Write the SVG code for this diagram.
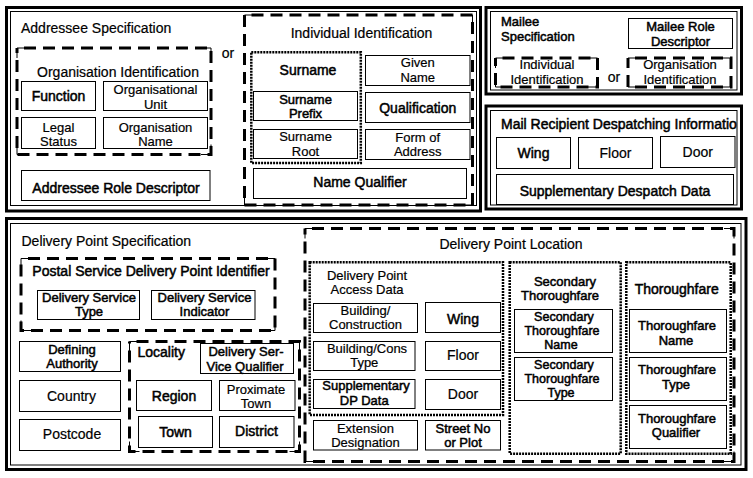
<svg xmlns="http://www.w3.org/2000/svg" width="753" height="478" viewBox="0 0 753 478">
<defs>
<style>
text{font-family:"Liberation Sans",Arial,Helvetica,sans-serif;font-size:14px;fill:#000;stroke:#000;stroke-width:.2px}
.t2{font-size:13px}
.t3{font-size:12.5px}
.m{text-anchor:middle}
.h{stroke-width:.5px}
.thick{fill:none;stroke:#000;stroke-width:3}
.thin{fill:none;stroke:#000;stroke-width:1}
.box{fill:none;stroke:#000;stroke-width:1}
.dash{fill:none;stroke:#000;stroke-width:3;stroke-dasharray:12 7;stroke-dashoffset:12}
.corner{fill:none;stroke:#000;stroke-width:1}
.dot{fill:none;stroke:#000;stroke-width:2.5;stroke-dasharray:2 1}
</style>
<clipPath id="recipClip"><rect x="491" y="110" width="246" height="95"/></clipPath>
</defs>
<rect width="753" height="478" fill="#fff"/>

<!-- ===== Addressee Specification ===== -->
<g id="addressee-specification">
  <rect class="thick" x="6.5" y="7.5" width="474" height="203.5"/>
  <rect class="thin" x="10.5" y="11.5" width="466" height="194"/>
  <text x="21" y="33">Addressee Specification</text>
  <text class="m" x="228" y="58">or</text>
</g>

<g id="organisation-identification">
  <rect class="dash" x="17" y="48" width="194" height="106.5"/>
  <path class="corner" d="M17,58V48H27M201,48H211V58M211,144.5V154.5H201M27,154.5H17V144.5"/>
  <text class="m" x="118" y="77">Organisation Identification</text>
</g>
<g id="function">
  <rect class="box" x="21.5" y="81.5" width="74" height="29"/>
  <text class="m h" x="58.5" y="100.5">Function</text>
</g>
<g id="organisational-unit">
  <rect class="box" x="103.5" y="81.5" width="104" height="29"/>
  <text class="m t2" x="155.5" y="94">Organisational<tspan x="155.5" dy="14.6">Unit</tspan></text>
</g>
<g id="legal-status">
  <rect class="box" x="21.5" y="117.5" width="74" height="31"/>
  <text class="m t2" x="58.5" y="131.5">Legal<tspan x="58.5" dy="14.6">Status</tspan></text>
</g>
<g id="organisation-name">
  <rect class="box" x="103.5" y="117.5" width="104" height="31"/>
  <text class="m t2" x="155.5" y="131.5">Organisation<tspan x="155.5" dy="14.6">Name</tspan></text>
</g>
<g id="addressee-role-descriptor">
  <rect class="box" x="21.5" y="170.5" width="188.5" height="30"/>
  <text class="m h" x="116" y="193">Addressee Role Descriptor</text>
</g>

<g id="individual-identification">
  <rect class="dash" x="244.5" y="15" width="228" height="190"/>
  <path class="corner" d="M244.5,25V15H254.5M462.5,15H472.5V25M472.5,195V205H462.5M254.5,205H244.5V195"/>
  <text class="m" x="361.5" y="38">Individual Identification</text>
</g>
<g id="surname">
  <rect class="dot" x="251.3" y="52.2" width="109.5" height="110.8"/>
  <text class="m h" x="308" y="75">Surname</text>
</g>
<g id="surname-prefix">
  <rect class="box" x="253.5" y="91.5" width="104" height="29"/>
  <text class="m h t2" x="305.5" y="103.5">Surname<tspan x="305.5" dy="14.6">Prefix</tspan></text>
</g>
<g id="surname-root">
  <rect class="box" x="253.5" y="129.5" width="104" height="29"/>
  <text class="m t2" x="305.5" y="141">Surname<tspan x="305.5" dy="14.6">Root</tspan></text>
</g>
<g id="given-name">
  <rect class="box" x="365.5" y="55.5" width="104.5" height="30"/>
  <text class="m t2" x="417.75" y="67">Given<tspan x="417.75" dy="14.6">Name</tspan></text>
</g>
<g id="qualification">
  <rect class="box" x="365.5" y="92.5" width="104.5" height="30"/>
  <text class="m h" x="417.75" y="112.5">Qualification</text>
</g>
<g id="form-of-address">
  <rect class="box" x="365.5" y="129.5" width="104.5" height="30"/>
  <text class="m t2" x="417.75" y="141.5">Form of<tspan x="417.75" dy="14.6">Address</tspan></text>
</g>
<g id="name-qualifier">
  <rect class="box" x="253.5" y="168.5" width="213" height="30"/>
  <text class="m h" x="360" y="186.5">Name Qualifier</text>
</g>

<!-- ===== Mailee Specification ===== -->
<g id="mailee-specification">
  <rect class="thick" x="486" y="7.5" width="255.5" height="86.5"/>
  <rect class="thin" x="490.5" y="11.5" width="246.5" height="78.5"/>
  <text class="h t2" x="501" y="26">Mailee<tspan x="501" dy="14.6">Specification</tspan></text>
  <text class="m" x="614" y="82">or</text>
</g>
<g id="mailee-role-descriptor">
  <rect class="box" x="628.5" y="18.5" width="104" height="30"/>
  <text class="m h t2" x="680.5" y="31">Mailee Role<tspan x="680.5" dy="14.6">Descriptor</tspan></text>
</g>
<g id="mailee-individual-identification">
  <rect class="dash" x="495.5" y="58" width="102" height="29"/>
  <path class="corner" d="M495.5,68V58H505.5M587.5,58H597.5V68M597.5,77V87H587.5M505.5,87H495.5V77"/>
  <text class="m t2" x="547" y="69">Individual<tspan x="547" dy="14.6">Identification</tspan></text>
</g>
<g id="mailee-organisation-identification">
  <rect class="dash" x="628" y="58" width="103" height="29"/>
  <path class="corner" d="M628,68V58H638M721,58H731V68M731,77V87H721M638,87H628V77"/>
  <text class="m t2" x="680" y="69">Organisation<tspan x="680" dy="14.6">Identification</tspan></text>
</g>

<!-- ===== Mail Recipient Despatching Information ===== -->
<g id="mail-recipient-despatching-information">
  <rect class="thick" x="486" y="106" width="255.5" height="103"/>
  <rect class="thin" x="490.5" y="110.5" width="246.5" height="94.5"/>
  <text class="h" x="501" y="128.5" clip-path="url(#recipClip)">Mail Recipient Despatching Information</text>
</g>
<g id="despatch-wing">
  <rect class="box" x="496.5" y="137.5" width="74" height="31"/>
  <text class="m h" x="533.5" y="158">Wing</text>
</g>
<g id="despatch-floor">
  <rect class="box" x="578.5" y="137.5" width="74" height="31"/>
  <text class="m" x="615.5" y="158">Floor</text>
</g>
<g id="despatch-door">
  <rect class="box" x="660.5" y="136.5" width="74.5" height="31"/>
  <text class="m" x="697.75" y="157">Door</text>
</g>
<g id="supplementary-despatch-data">
  <rect class="box" x="496.5" y="174.5" width="237" height="30"/>
  <text class="m h" x="615" y="195.5">Supplementary Despatch Data</text>
</g>

<!-- ===== Delivery Point Specification ===== -->
<g id="delivery-point-specification">
  <rect class="thick" x="6.5" y="218.5" width="739.5" height="251"/>
  <rect class="thin" x="10.5" y="223.5" width="730.5" height="241.5"/>
  <text x="21.5" y="245.5">Delivery Point Specification</text>
</g>

<g id="postal-service-delivery-point-identifier">
  <rect class="dash" x="21" y="258.5" width="254" height="72"/>
  <path class="corner" d="M21,268.5V258.5H31M265,258.5H275V268.5M275,320.5V330.5H265M31,330.5H21V320.5"/>
  <text class="m h" x="151" y="276">Postal Service Delivery Point Identifier</text>
</g>
<g id="delivery-service-type">
  <rect class="box" x="37.5" y="290.5" width="102" height="29"/>
  <text class="m h t2" x="89" y="301.5">Delivery Service<tspan x="89" dy="14.6">Type</tspan></text>
</g>
<g id="delivery-service-indicator">
  <rect class="box" x="151.5" y="290.5" width="103.5" height="29"/>
  <text class="m h t2" x="204.5" y="301.5">Delivery Service<tspan x="204.5" dy="14.6">Indicator</tspan></text>
</g>
<g id="defining-authority">
  <rect class="box" x="19.5" y="341.5" width="101" height="30"/>
  <text class="m h t2" x="72" y="353.5">Defining<tspan x="72" dy="14.6">Authority</tspan></text>
</g>
<g id="country">
  <rect class="box" x="19.5" y="380.5" width="101" height="31"/>
  <text class="m" x="71.5" y="400.5">Country</text>
</g>
<g id="postcode">
  <rect class="box" x="19.5" y="419.5" width="101" height="31"/>
  <text class="m" x="72" y="439">Postcode</text>
</g>

<g id="locality">
  <rect class="dash" x="129.5" y="341.5" width="170" height="110"/>
  <path class="corner" d="M129.5,351.5V341.5H139.5M289.5,341.5H299.5V351.5M299.5,441.5V451.5H289.5M139.5,451.5H129.5V441.5"/>
  <text class="h" x="137.5" y="356.5">Locality</text>
</g>
<g id="delivery-service-qualifier">
  <rect class="box" x="200.5" y="343.5" width="93" height="30"/>
  <text class="m h t2" x="246" y="356">Delivery Ser-<tspan x="245" dy="14.6">Vice Qualifier</tspan></text>
</g>
<g id="region">
  <rect class="box" x="136.5" y="380.5" width="75" height="30"/>
  <text class="m h" x="174" y="400.5">Region</text>
</g>
<g id="proximate-town">
  <rect class="box" x="219.5" y="380.5" width="75.5" height="30"/>
  <text class="m t2" x="256" y="393.5">Proximate<tspan x="256" dy="14.6">Town</tspan></text>
</g>
<g id="town">
  <rect class="box" x="138.5" y="416.5" width="74" height="31"/>
  <text class="m h" x="175.5" y="436.5">Town</text>
</g>
<g id="district">
  <rect class="box" x="219.5" y="416.5" width="74.5" height="31"/>
  <text class="m h" x="256.5" y="435.5">District</text>
</g>

<g id="delivery-point-location">
  <rect class="dash" x="305" y="228.5" width="429" height="233"/>
  <path class="corner" d="M305,238.5V228.5H315M724,228.5H734V238.5M734,451.5V461.5H724M315,461.5H305V451.5"/>
  <text class="m" x="511" y="248.5">Delivery Point Location</text>
</g>

<g id="delivery-point-access-data">
  <rect class="dot" x="309.7" y="262.3" width="193.3" height="152.7"/>
  <text class="m t2" x="367" y="279.5">Delivery Point<tspan x="367" dy="14.6">Access Data</tspan></text>
</g>
<g id="building-construction">
  <rect class="box" x="313.5" y="303.5" width="104" height="29"/>
  <text class="m t2" x="365.5" y="314.5">Building/<tspan x="365.5" dy="14.6">Construction</tspan></text>
</g>
<g id="access-wing">
  <rect class="box" x="425.5" y="302.5" width="75" height="30"/>
  <text class="m h" x="463" y="323.5">Wing</text>
</g>
<g id="building-cons-type">
  <rect class="box" x="313.5" y="341.5" width="101.5" height="29"/>
  <text class="m t2" x="367" y="352.5">Building/Cons<tspan x="364.25" dy="14.6">Type</tspan></text>
</g>
<g id="access-floor">
  <rect class="box" x="425.5" y="341.5" width="75" height="29"/>
  <text class="m" x="463" y="360">Floor</text>
</g>
<g id="supplementary-dp-data">
  <rect class="box" x="313.5" y="379.5" width="101.5" height="29"/>
  <text class="m h t2" x="366" y="390">Supplementary<tspan x="364.25" dy="14.6">DP Data</tspan></text>
</g>
<g id="access-door">
  <rect class="box" x="425.5" y="379.5" width="75" height="30"/>
  <text class="m" x="463" y="398.5">Door</text>
</g>
<g id="extension-designation">
  <rect class="box" x="313.5" y="420.5" width="104" height="29.5"/>
  <text class="m t2" x="365.5" y="432.5">Extension<tspan x="365.5" dy="14.6">Designation</tspan></text>
</g>
<g id="street-no-or-plot">
  <rect class="box" x="425.5" y="420.5" width="75" height="29.5"/>
  <text class="m h t2" x="463" y="432.5">Street No<tspan x="463" dy="14.6">or Plot</tspan></text>
</g>

<g id="secondary-thoroughfare">
  <rect class="dot" x="509.7" y="262.3" width="111" height="191.4"/>
  <text class="m h t2" x="565" y="285.5">Secondary<tspan x="560" dy="14.6">Thoroughfare</tspan></text>
</g>
<g id="secondary-thoroughfare-name">
  <rect class="box" x="514.5" y="309.5" width="98" height="43"/>
  <text class="m h t3" x="564" y="321">Secondary<tspan x="562" dy="14">Thoroughfare</tspan><tspan x="561" dy="14">Name</tspan></text>
</g>
<g id="secondary-thoroughfare-type">
  <rect class="box" x="514.5" y="357.5" width="98" height="43"/>
  <text class="m h t3" x="564" y="369">Secondary<tspan x="562" dy="14">Thoroughfare</tspan><tspan x="561" dy="14">Type</tspan></text>
</g>

<g id="thoroughfare">
  <rect class="dot" x="626.3" y="262.3" width="104.4" height="191.4"/>
  <text class="m h" x="676.7" y="293.5">Thoroughfare</text>
</g>
<g id="thoroughfare-name">
  <rect class="box" x="629.5" y="309.5" width="97" height="43"/>
  <text class="m h t2" x="677" y="330">Thoroughfare<tspan x="676" dy="14.6">Name</tspan></text>
</g>
<g id="thoroughfare-type">
  <rect class="box" x="629.5" y="357.5" width="97" height="43"/>
  <text class="m h t2" x="677" y="374">Thoroughfare<tspan x="676" dy="14.6">Type</tspan></text>
</g>
<g id="thoroughfare-qualifier">
  <rect class="box" x="629.5" y="405.5" width="97" height="43"/>
  <text class="m h t2" x="677" y="422.5">Thoroughfare<tspan x="676" dy="14.6">Qualifier</tspan></text>
</g>
</svg>
